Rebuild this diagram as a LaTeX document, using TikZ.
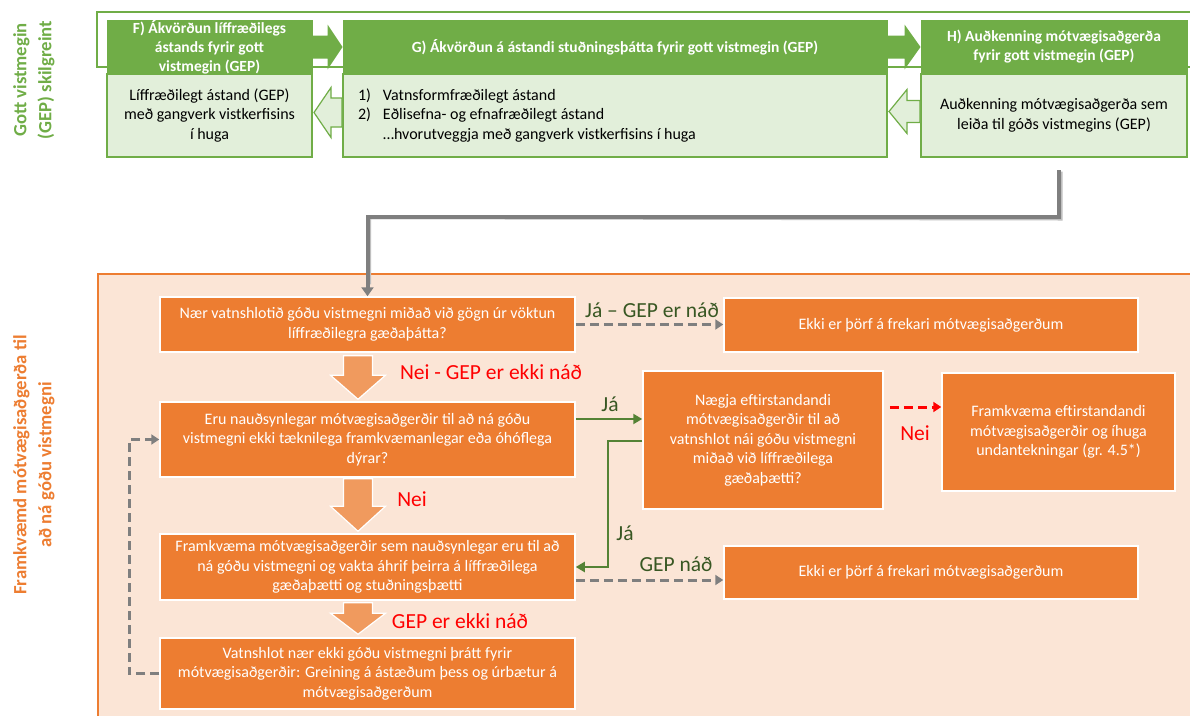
\documentclass[tikz,border=0pt]{standalone}
\usepackage{fontspec}
\setmainfont{Carlito}
\usetikzlibrary{calc,arrows.meta}
\definecolor{ggreen}{HTML}{70AD47}
\definecolor{lgreen}{HTML}{E2EFDA}
\definecolor{dgreen}{HTML}{548235}
\definecolor{lblgreen}{HTML}{385723}
\definecolor{orng}{HTML}{ED7D31}
\definecolor{lorng}{HTML}{FBE5D6}
\definecolor{aorng}{HTML}{F09A5E}
\definecolor{gry}{HTML}{7F7F7F}
\definecolor{gryshadow}{HTML}{BFBFBF}
% block arrow pointing right: #1 style, #2 tail, #3 tip, #4 head length, #5 head half, #6 shaft half
\newcommand{\blockRight}[6]{%
  \path[#1] let \p1=(#2), \p2=(#3) in
    (\x1,\y2+#6) -- (\x2-#4,\y2+#6) -- (\x2-#4,\y2+#5) -- (\x2,\y2) --
    (\x2-#4,\y2-#5) -- (\x2-#4,\y2-#6) -- (\x1,\y2-#6) -- cycle;}
% block arrow pointing left: #2 tip, #3 tail
\newcommand{\blockLeft}[6]{%
  \path[#1] let \p1=(#2), \p2=(#3) in
    (\x1,\y1) -- (\x1+#4,\y1+#5) -- (\x1+#4,\y1+#6) -- (\x2,\y1+#6) --
    (\x2,\y1-#6) -- (\x1+#4,\y1-#6) -- (\x1+#4,\y1-#5) -- cycle;}
% block arrow pointing down: #2 tail (top), #3 tip (bottom)
\newcommand{\blockDown}[6]{%
  \path[#1] let \p1=(#2), \p2=(#3) in
    (\x2-#6,\y1) -- (\x2-#6,\y2+#4) -- (\x2-#5,\y2+#4) -- (\x2,\y2) --
    (\x2+#5,\y2+#4) -- (\x2+#6,\y2+#4) -- (\x2+#6,\y1) -- cycle;}
\begin{document}
\begin{tikzpicture}[x=1pt,y=-1pt,
  hdr/.style={draw=ggreen, fill=ggreen, line width=1pt, text=white,
    font=\fontsize{15.5}{19}\selectfont\bfseries, align=center, inner sep=0pt},
  body/.style={draw=ggreen, fill=lgreen, line width=2pt, text=black,
    font=\fontsize{16}{19.5}\selectfont, align=center, inner sep=0pt},
  obox/.style={draw=white, fill=orng, line width=1.5pt, text=white,
    font=\fontsize{16}{19.5}\selectfont, align=center, inner sep=0pt},
  fgarrow/.style={fill=ggreen},
  hollow/.style={fill=lgreen, draw=ggreen, line width=1.2pt},
  oarrow/.style={fill=aorng, draw=white, line width=1.2pt},
  gconn/.style={draw=gry, line width=4pt, -{Triangle[width=12pt,length=9pt]}},
  gdash/.style={draw=gry, line width=3pt, dash pattern=on 9pt off 5pt,
    -{Triangle[width=10pt,length=8pt]}},
  rdash/.style={draw=red, line width=3pt, dash pattern=on 9pt off 5pt,
    -{Triangle[width=10pt,length=8pt]}},
  gline/.style={draw=dgreen, line width=2.2pt, -{Triangle[width=10pt,length=9pt]}},
  redlbl/.style={text=red, font=\fontsize{21.5}{24}\selectfont, inner sep=0pt},
  grnlbl/.style={text=lblgreen, font=\fontsize{21.5}{24}\selectfont, inner sep=0pt},
  sidetitle/.style={rotate=90, font=\fontsize{18.7}{25}\selectfont\bfseries, align=center, inner sep=0pt}
]
\useasboundingbox (0,0) rectangle (1190,715);
\fill[white] (0,0) rectangle (1190,715);

% ---------- top section ----------
\draw[ggreen, line width=2.5pt] (1200,12) -- (97,12) -- (97,67) -- (1200,67);

\node[body, minimum width=205pt, minimum height=83pt] (fb) at (209.5,115.5)
  {Líffræðilegt ástand (GEP)\\með gangverk vistkerfisins\\í huga};
\node[hdr, minimum width=205pt, minimum height=54pt] (fh) at (209.5,47)
  {F) Ákvörðun líffræðilegs\\ástands fyrir gott\\vistmegin (GEP)};

\node[body, minimum width=544pt, minimum height=83pt] (gb) at (615,115.5) {};
\node[body, draw=none, fill=none, align=left, anchor=west] (gbt) at (357,115.5)
  {\makebox[25pt][l]{1)}Vatnsformfræðilegt ástand\\
   \makebox[25pt][l]{2)}Eðlisefna- og efnafræðilegt ástand\\
   \hspace*{25pt}…hvorutveggja með gangverk vistkerfisins í huga};
\node[hdr, minimum width=544pt, minimum height=54pt] (gh) at (615,47)
  {G) Ákvörðun á ástandi stuðningsþátta fyrir gott vistmegin (GEP)};

\node[body, minimum width=266pt, minimum height=83pt] (hb) at (1054,115.5)
  {Auðkenning mótvægisaðgerða sem\\leiða til góðs vistmegins (GEP)};
\node[hdr, minimum width=266pt, minimum height=54pt] (hh) at (1054,47)
  {H) Auðkenning mótvægisaðgerða\\fyrir gott vistmegin (GEP)};

\blockRight{fgarrow}{fh.east}{gh.west}{15pt}{22.5pt}{11.5pt}
\blockRight{fgarrow}{gh.east}{hh.west}{16pt}{22.5pt}{11.5pt}
\blockLeft{hollow}{$(fb.east)+(1,-3)$}{gb.west}{17pt}{25pt}{14.5pt}
\blockLeft{hollow}{$(gb.east)+(1,-4)$}{hb.west}{18pt}{22pt}{11pt}

\node[sidetitle, text=ggreen] (t1) at (34,80) {Gott vistmegin\\(GEP) skilgreint};

% ---------- bottom section ----------
\draw[orng, fill=lorng, line width=2.5pt] (98,274) rectangle (1200,725);
\node[sidetitle, text=orng] (t2) at (34,465) {Framkvæmd mótvægisaðgerða til\\að ná góðu vistmegni};

\node[obox, minimum width=415pt, minimum height=55pt] (q1) at (367.5,324.5)
  {Nær vatnshlotið góðu vistmegni miðað við gögn úr vöktun\\líffræðilegra gæðaþátta?};
\node[obox, minimum width=415pt, minimum height=75pt] (q2) at (367.5,439.5)
  {Eru nauðsynlegar mótvægisaðgerðir til að ná góðu\\vistmegni ekki tæknilega framkvæmanlegar eða óhóflega\\dýrar?};
\node[obox, minimum width=415pt, minimum height=66pt] (q4) at (367.5,567)
  {Framkvæma mótvægisaðgerðir sem nauðsynlegar eru til að\\ná góðu vistmegni og vakta áhrif þeirra á líffræðilega\\gæðaþætti og stuðningsþætti};
\node[obox, minimum width=415pt, minimum height=71pt] (q5) at (367.5,673.5)
  {Vatnshlot nær ekki góðu vistmegni þrátt fyrir\\mótvægisaðgerðir: Greining á ástæðum þess og úrbætur á\\mótvægisaðgerðum};
\node[obox, minimum width=414pt, minimum height=54pt] (r1) at (931,325)
  {Ekki er þörf á frekari mótvægisaðgerðum};
\node[obox, minimum width=414pt, minimum height=53pt] (r3) at (931,572.5)
  {Ekki er þörf á frekari mótvægisaðgerðum};
\node[obox, minimum width=240pt, minimum height=138pt] (q3) at (763,440)
  {Nægja eftirstandandi\\mótvægisaðgerðir til að\\vatnshlot nái góðu vistmegni\\miðað við líffræðilega\\gæðaþætti?};
\node[obox, minimum width=233pt, minimum height=118pt] (r2) at (1058.5,432)
  {Framkvæma eftirstandandi\\mótvægisaðgerðir og íhuga\\undantekningar (gr. 4.5*)};

% down block arrows
\blockDown{oarrow}{$(q1.south)+(-9.5,3)$}{$(q2.north)+(-9.5,-2)$}{24pt}{27.5pt}{14.5pt}
\blockDown{oarrow}{$(q2.south)+(-9.5,1)$}{$(q4.north)+(-9.5,-2)$}{25pt}{27.5pt}{14.5pt}
\blockDown{oarrow}{$(q4.south)+(-9.5,2)$}{$(q5.north)+(-9.5,-3)$}{21pt}{27.5pt}{14.5pt}

% main gray connector from H to Q1
\draw[gryshadow, line width=4pt] ($(hb.south)+(6.5,13.5)$) -- ++(0,47) -- ($(q1.north)+(1.5,-79)$) -- ($(q1.north)+(1.5,-12)$);
\draw[gconn] ($(hb.south)+(5,12)$) -- ++(0,47) -| (q1.north);

% connectors
\draw[gdash] (q1.east) -- (q1.east -| r1.west);
\coordinate (j1) at ($(q2.east)+(0,-20.5)$);
\draw[gline] (j1) -- (j1 -| q3.west);
\coordinate (j2) at ($(q3.west)+(0,1)$);
\draw[gline] (j2) -- ++(-34,0) |- (q4.east);
\coordinate (j3) at ($(q3.east)+(6,-33)$);
\draw[rdash] (j3) -- (j3 -| r2.west);
\coordinate (j4) at ($(q4.east)+(0,13)$);
\draw[gdash] (j4) -- (j4 -| r3.west);
\draw[gdash] (q5.west) -- ++(-30,0) |- (q2.west);

% labels
\node[redlbl] (l1) at (491,372) {Nei - GEP er ekki náð};
\node[redlbl] (l2) at (412,499) {Nei};
\node[redlbl] (l3) at (460,621) {GEP er ekki náð};
\node[redlbl] (l4) at (915,433) {Nei};
\node[grnlbl] (l5) at (652,310) {Já – GEP er náð};
\node[grnlbl] (l6) at (610,404) {Já};
\node[grnlbl] (l7) at (625,533) {Já};
\node[grnlbl] (l8) at (676,564) {GEP náð};
\end{tikzpicture}
\end{document}
